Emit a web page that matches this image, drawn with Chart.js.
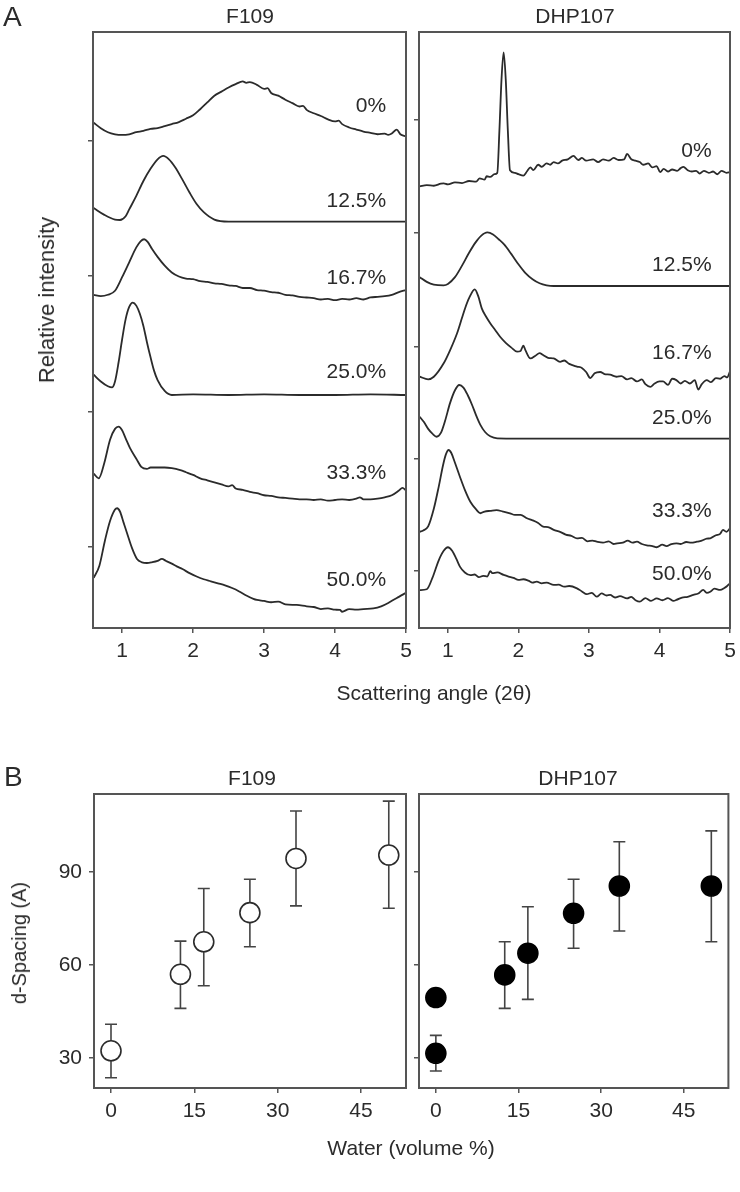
<!DOCTYPE html>
<html>
<head>
<meta charset="utf-8">
<script src="https://cdn.jsdelivr.net/npm/chart.js@4.4.0/dist/chart.umd.min.js"></script>
<style>
    body { margin: 0; background: #fff; }
    #wrap { position: relative; width: 740px; height: 1192px; overflow: hidden; font-family: "Liberation Sans", Arial, sans-serif; color: #2b2b2b; }
    #wrap canvas { position: absolute; left: 0; }
    .t { position: absolute; white-space: nowrap; line-height: 1; font-size: 21px; }
    .c { transform: translateX(-50%); }
    .r { transform: translate(-50%, -50%) rotate(-90deg); }
</style>
</head>
<body>
<div id="wrap">
    <canvas id="aLeft" width="740" height="720" style="top:0"></canvas>
    <canvas id="aRight" width="740" height="720" style="top:0"></canvas>
    <canvas id="bLeft" width="740" height="472" style="top:720px"></canvas>
    <canvas id="bRight" width="740" height="472" style="top:720px"></canvas>

    <div class="t" style="left:3px;top:3px;font-size:28px">A</div>
    <div class="t c" style="left:250px;top:5px">F109</div>
    <div class="t c" style="left:575px;top:5px">DHP107</div>
    <div class="t r" style="left:47px;top:300px;font-size:22px">Relative intensity</div>
    <div class="t c" style="left:434px;top:682px">Scattering angle (2θ)</div>

    <div class="t" style="left:4px;top:763px;font-size:28px">B</div>
    <div class="t c" style="left:252px;top:767px">F109</div>
    <div class="t c" style="left:578px;top:767px">DHP107</div>
    <div class="t r" style="left:19px;top:943px;font-size:20px">d-Spacing (A)</div>
    <div class="t c" style="left:411px;top:1137px">Water (volume %)</div>
</div>

<script>
// ---- Panel A: scattering curves, stacked with an offset (arbitrary intensity units) ----
const angleTicks = [1, 2, 3, 4, 5];
const leftIntensityTicks = [6, 16, 26, 36];
const rightIntensityTicks = [4.2, 12.5, 20.8, 29.2, 37.5];
const waterLevels = ['0%', '12.5%', '16.7%', '25.0%', '33.3%', '50.0%'];
const f109LabelY = [38.5, 31.5, 25.8, 18.9, 11.4, 3.5];
const dhpLabelY = [35.2, 26.8, 20.3, 15.5, 8.6, 4.0];

const f109_0 = [[0.6,37.3],[0.7,36.9],[0.8,36.6],[0.9,36.45],[1.0,36.4],[1.1,36.45],[1.2,36.6],[1.3,36.7],[1.4,36.85],[1.5,36.9],[1.6,37.05],[1.7,37.2],[1.8,37.35],[1.9,37.6],[2.0,37.85],[2.1,38.3],[2.2,38.8],[2.3,39.3],[2.4,39.6],[2.5,39.9],[2.6,40.15],[2.7,40.35],[2.75,40.25],[2.8,40.3],[2.9,40.1],[3.0,39.8],[3.05,39.85],[3.1,39.5],[3.2,39.3],[3.3,39.0],[3.4,38.75],[3.5,38.5],[3.55,38.55],[3.6,38.25],[3.7,38.0],[3.8,37.8],[3.9,37.55],[4.0,37.4],[4.05,37.45],[4.1,37.2],[4.2,36.95],[4.3,36.8],[4.4,36.65],[4.5,36.55],[4.6,36.45],[4.7,36.5],[4.75,36.4],[4.8,36.5],[4.87,36.8],[4.92,36.45],[5.0,36.3]];
const f109_125 = [[0.6,31.0],[0.75,30.5],[0.9,30.15],[0.97,30.12],[1.05,30.4],[1.1,30.9],[1.2,31.9],[1.3,33.0],[1.4,33.9],[1.5,34.6],[1.58,34.85],[1.66,34.6],[1.75,34.0],[1.85,33.1],[1.95,32.15],[2.05,31.3],[2.15,30.7],[2.3,30.15],[2.5,30.0],[3.0,30.0],[4.0,30.0],[5.0,30.0]];
const f109_167 = [[0.6,24.6],[0.7,24.5],[0.8,24.6],[0.9,24.9],[1.0,25.9],[1.1,27.0],[1.2,28.1],[1.26,28.55],[1.31,28.7],[1.36,28.5],[1.42,28.0],[1.5,27.4],[1.6,26.75],[1.7,26.25],[1.8,25.95],[1.9,25.8],[2.0,25.75],[2.1,25.6],[2.2,25.55],[2.3,25.45],[2.4,25.4],[2.5,25.3],[2.6,25.25],[2.7,25.1],[2.8,25.1],[2.9,24.95],[3.0,24.9],[3.1,24.8],[3.2,24.75],[3.3,24.6],[3.4,24.55],[3.5,24.45],[3.6,24.4],[3.7,24.35],[3.8,24.25],[3.9,24.3],[4.0,24.2],[4.1,24.3],[4.2,24.25],[4.3,24.35],[4.4,24.25],[4.5,24.4],[4.6,24.45],[4.7,24.5],[4.8,24.6],[4.9,24.8],[5.0,24.95]];
const f109_250 = [[0.6,18.7],[0.7,18.2],[0.8,17.85],[0.86,17.77],[0.9,18.2],[0.95,19.6],[1.0,21.3],[1.05,22.8],[1.1,23.7],[1.15,24.02],[1.2,23.8],[1.25,23.2],[1.3,22.3],[1.35,21.1],[1.4,20.0],[1.45,19.0],[1.5,18.3],[1.6,17.5],[1.7,17.2],[2.0,17.25],[2.5,17.2],[3.0,17.25],[3.5,17.2],[4.0,17.2],[4.5,17.25],[5.0,17.2]];
const f109_333 = [[0.6,11.4],[0.67,11.05],[0.75,12.2],[0.83,13.9],[0.9,14.7],[0.95,14.86],[1.0,14.6],[1.05,14.0],[1.11,13.3],[1.2,12.5],[1.27,11.9],[1.35,11.75],[1.4,11.85],[1.5,11.85],[1.6,11.85],[1.7,11.8],[1.82,11.65],[1.9,11.5],[2.0,11.3],[2.1,11.05],[2.2,10.9],[2.3,10.75],[2.4,10.6],[2.5,10.45],[2.55,10.55],[2.6,10.3],[2.7,10.2],[2.8,10.05],[2.9,9.95],[3.0,9.8],[3.1,9.75],[3.2,9.65],[3.3,9.6],[3.4,9.55],[3.5,9.5],[3.6,9.5],[3.7,9.45],[3.8,9.5],[3.9,9.4],[4.0,9.45],[4.1,9.5],[4.2,9.45],[4.3,9.55],[4.35,9.65],[4.4,9.5],[4.5,9.5],[4.6,9.55],[4.7,9.65],[4.8,9.8],[4.9,10.15],[4.95,10.35],[5.0,10.15]];
const f109_500 = [[0.6,3.7],[0.68,4.6],[0.76,6.5],[0.83,7.9],[0.9,8.75],[0.93,8.84],[0.97,8.6],[1.02,7.8],[1.07,7.0],[1.14,5.9],[1.21,5.1],[1.28,4.85],[1.35,4.8],[1.42,4.85],[1.5,4.95],[1.56,5.1],[1.62,4.95],[1.7,4.75],[1.77,4.55],[1.85,4.35],[1.95,4.05],[2.05,3.8],[2.15,3.6],[2.25,3.45],[2.35,3.3],[2.45,3.15],[2.55,2.95],[2.65,2.7],[2.75,2.4],[2.85,2.15],[2.9,2.07],[3.0,2.0],[3.1,1.9],[3.2,1.95],[3.3,1.75],[3.46,1.7],[3.6,1.6],[3.7,1.55],[3.8,1.4],[3.9,1.45],[4.0,1.35],[4.07,1.33],[4.1,1.2],[4.2,1.4],[4.3,1.35],[4.4,1.4],[4.54,1.45],[4.65,1.6],[4.75,1.85],[4.82,2.07],[4.9,2.3],[5.0,2.6]];

const dhp_0 = [[0.6,32.6],[0.7,32.7],[0.8,32.65],[0.9,32.8],[0.94,32.83],[1.0,32.75],[1.1,32.9],[1.2,32.85],[1.3,33.0],[1.4,32.95],[1.45,33.2],[1.52,33.1],[1.55,33.35],[1.6,33.3],[1.66,33.5],[1.7,33.6],[1.73,36.7],[1.76,40.5],[1.79,42.5],[1.82,40.5],[1.85,36.7],[1.88,33.8],[1.95,33.6],[2.0,33.5],[2.07,33.4],[2.12,33.7],[2.17,34.0],[2.21,33.8],[2.28,34.2],[2.33,34.05],[2.4,34.3],[2.45,34.2],[2.5,34.4],[2.56,34.3],[2.62,34.5],[2.7,34.6],[2.78,34.85],[2.85,34.55],[2.9,34.7],[2.96,34.5],[3.06,34.6],[3.13,34.4],[3.2,34.6],[3.28,34.5],[3.35,34.7],[3.42,34.55],[3.5,34.6],[3.54,35.0],[3.6,34.6],[3.66,34.5],[3.72,34.4],[3.77,34.2],[3.84,34.3],[3.9,34.0],[3.96,34.1],[4.01,33.65],[4.06,33.9],[4.12,33.7],[4.18,33.85],[4.25,33.75],[4.3,33.95],[4.34,34.05],[4.4,33.8],[4.46,33.7],[4.52,33.75],[4.57,33.55],[4.63,33.75],[4.7,33.6],[4.76,33.7],[4.82,33.5],[4.88,33.75],[4.95,33.6],[5.0,33.65]];
const dhp_125 = [[0.6,25.9],[0.7,25.55],[0.8,25.35],[0.94,25.3],[1.0,25.4],[1.1,25.9],[1.2,26.75],[1.3,27.7],[1.39,28.45],[1.47,28.95],[1.56,29.2],[1.64,29.05],[1.72,28.7],[1.8,28.3],[1.9,27.6],[2.0,26.85],[2.1,26.2],[2.2,25.75],[2.3,25.45],[2.4,25.3],[2.5,25.25],[3.0,25.25],[3.5,25.25],[4.0,25.25],[4.5,25.25],[5.0,25.25]];
const dhp_167 = [[0.6,18.55],[0.72,18.36],[0.8,18.55],[0.94,19.54],[1.03,20.5],[1.13,21.76],[1.2,22.9],[1.25,23.7],[1.3,24.35],[1.38,25.0],[1.43,24.5],[1.48,23.6],[1.54,23.0],[1.6,22.5],[1.67,22.0],[1.74,21.5],[1.82,21.05],[1.9,20.7],[1.98,20.4],[2.03,20.45],[2.07,20.85],[2.1,20.5],[2.17,19.9],[2.24,20.1],[2.3,20.3],[2.35,20.15],[2.42,19.95],[2.5,19.9],[2.59,19.65],[2.65,19.75],[2.72,19.5],[2.83,19.3],[2.9,19.2],[2.96,18.9],[3.02,18.45],[3.08,18.8],[3.16,18.9],[3.22,18.75],[3.3,18.7],[3.39,18.55],[3.46,18.6],[3.54,18.35],[3.6,18.45],[3.68,18.2],[3.75,18.35],[3.8,18.0],[3.87,17.8],[3.93,18.05],[4.0,18.2],[4.05,18.2],[4.12,17.95],[4.18,18.4],[4.24,18.3],[4.3,18.05],[4.36,18.25],[4.43,18.05],[4.5,18.3],[4.55,17.6],[4.6,18.0],[4.67,18.3],[4.73,18.15],[4.8,18.45],[4.86,18.4],[4.92,18.6],[4.96,18.5],[5.0,18.95]];
const dhp_250 = [[0.6,15.6],[0.66,15.2],[0.72,14.7],[0.78,14.35],[0.84,14.12],[0.9,14.4],[0.96,15.3],[1.03,16.6],[1.1,17.55],[1.16,17.94],[1.22,17.75],[1.28,17.2],[1.34,16.5],[1.4,15.7],[1.46,15.0],[1.53,14.45],[1.6,14.15],[1.7,14.0],[2.0,13.98],[3.0,13.98],[4.0,13.98],[5.0,13.98]];
const dhp_333 = [[0.6,7.1],[0.65,7.2],[0.72,7.5],[0.8,8.8],[0.87,10.44],[0.93,12.0],[0.97,12.8],[1.01,13.14],[1.05,12.9],[1.1,12.2],[1.17,11.17],[1.24,10.2],[1.32,9.3],[1.4,8.75],[1.46,8.47],[1.52,8.6],[1.6,8.65],[1.69,8.7],[1.78,8.6],[1.88,8.47],[1.95,8.35],[2.03,8.35],[2.12,8.1],[2.2,7.95],[2.28,7.75],[2.35,7.48],[2.42,7.45],[2.5,7.25],[2.59,7.1],[2.67,6.9],[2.75,6.8],[2.83,6.62],[2.9,6.65],[2.98,6.4],[3.05,6.45],[3.11,6.37],[3.2,6.3],[3.28,6.4],[3.35,6.2],[3.4,6.25],[3.48,6.3],[3.55,6.45],[3.62,6.3],[3.68,6.37],[3.75,6.2],[3.82,6.1],[3.9,6.05],[3.96,5.96],[4.04,6.15],[4.1,6.05],[4.17,6.2],[4.24,6.25],[4.3,6.2],[4.38,6.35],[4.45,6.3],[4.53,6.37],[4.6,6.45],[4.67,6.6],[4.72,6.62],[4.8,6.85],[4.86,6.95],[4.9,7.24],[4.95,7.1],[5.0,7.36]];
const dhp_500 = [[0.6,2.8],[0.7,2.86],[0.78,3.7],[0.87,5.0],[0.94,5.7],[1.0,5.96],[1.06,5.7],[1.12,5.1],[1.17,4.53],[1.24,4.1],[1.32,3.9],[1.38,3.95],[1.44,3.75],[1.5,3.85],[1.56,3.8],[1.6,4.2],[1.63,4.05],[1.7,4.1],[1.79,3.92],[1.86,3.8],[1.93,3.7],[2.0,3.55],[2.07,3.6],[2.14,3.5],[2.2,3.35],[2.26,3.42],[2.33,3.3],[2.4,3.35],[2.5,3.18],[2.57,3.2],[2.65,3.05],[2.72,3.1],[2.83,2.93],[2.9,2.7],[2.97,2.5],[3.04,2.6],[3.11,2.31],[3.18,2.55],[3.25,2.4],[3.3,2.44],[3.37,2.25],[3.44,2.35],[3.54,2.19],[3.6,2.3],[3.66,2.05],[3.72,1.94],[3.8,2.2],[3.88,2.0],[3.96,2.19],[4.04,2.05],[4.12,2.2],[4.2,2.0],[4.24,2.07],[4.32,2.25],[4.4,2.3],[4.48,2.44],[4.55,2.55],[4.62,2.81],[4.67,2.6],[4.72,2.68],[4.78,2.9],[4.86,2.81],[4.92,2.95],[4.96,3.1],[5.0,3.3]];

// ---- Panel B: d-spacing vs water content ----
const waterTicks = [0, 15, 30, 45];
const spacingTicks = [30, 60, 90];
const f109Water = [0, 12.5, 16.7, 25, 33.3, 50];
const f109Spacing = [32.3, 57.0, 67.5, 76.9, 94.4, 95.5];
const f109Hi = [40.9, 67.7, 84.7, 87.7, 109.7, 112.9];
const f109Lo = [23.6, 46.0, 53.3, 65.9, 79.1, 78.3];
const dhpWater = [0, 0, 12.5, 16.7, 25, 33.3, 50];
const dhpSpacing = [49.5, 31.5, 56.8, 63.8, 76.7, 85.5, 85.5];
const dhpHi = [null, 37.3, 67.5, 78.8, 87.7, 99.8, 103.3];
const dhpLo = [null, 25.8, 46.0, 48.9, 65.4, 71.0, 67.5];

const INK = '#2b2b2b';
const FRAME = '#555';
const FONT = { family: '"Liberation Sans", Arial, sans-serif', size: 21 };

// box around plot area
const framePlugin = {
    id: 'frame',
    afterDraw(chart) {
        const { ctx, chartArea: a } = chart;
        ctx.save();
        ctx.strokeStyle = FRAME;
        ctx.lineWidth = 2;
        ctx.strokeRect(a.left, a.top, a.right - a.left, a.bottom - a.top);
        ctx.restore();
    }
};

// percent labels placed in data coordinates
const curveLabels = {
    id: 'curveLabels',
    afterDatasetsDraw(chart, args, opts) {
        if (!opts.texts) return;
        const { ctx, scales } = chart;
        ctx.save();
        ctx.fillStyle = INK;
        ctx.font = FONT.size + 'px ' + FONT.family;
        ctx.textAlign = 'right';
        ctx.textBaseline = 'middle';
        opts.texts.forEach((t, i) => {
            ctx.fillText(t, scales.x.getPixelForValue(opts.x), scales.y.getPixelForValue(opts.y[i]));
        });
        ctx.restore();
    }
};

// vertical error bars with caps, drawn under markers
const errorBars = {
    id: 'errorBars',
    beforeDatasetsDraw(chart) {
        const { ctx, scales } = chart;
        ctx.save();
        ctx.strokeStyle = '#444';
        ctx.lineWidth = 1.6;
        chart.data.datasets.forEach(ds => {
            if (!ds.errHi) return;
            ds.data.forEach((p, i) => {
                if (ds.errHi[i] == null) return;
                const x = scales.x.getPixelForValue(p.x);
                const yh = scales.y.getPixelForValue(ds.errHi[i]);
                const yl = scales.y.getPixelForValue(ds.errLo[i]);
                ctx.beginPath();
                ctx.moveTo(x, yh); ctx.lineTo(x, yl);
                ctx.moveTo(x - 6, yh); ctx.lineTo(x + 6, yh);
                ctx.moveTo(x - 6, yl); ctx.lineTo(x + 6, yl);
                ctx.stroke();
            });
        });
        ctx.restore();
    }
};

function axes(o) {
    return {
        x: {
            type: 'linear', min: o.xMin, max: o.xMax,
            border: { display: false },
            grid: { drawOnChartArea: false, drawTicks: true, tickLength: 5, color: FRAME, lineWidth: 1.5 },
            ticks: { color: INK, font: FONT, padding: 6, maxRotation: 0 },
            afterBuildTicks: s => { s.ticks = o.xTicks.map(v => ({ value: v })); },
            afterFit: s => { s.height = 50; s.paddingLeft = 0; s.paddingRight = 0; }
        },
        y: {
            type: 'linear', min: o.yMin, max: o.yMax,
            border: { display: false },
            grid: { drawOnChartArea: false, drawTicks: true, tickLength: 5, color: FRAME, lineWidth: 1.5 },
            ticks: { display: o.yLabels, color: INK, font: FONT, padding: 7 },
            afterBuildTicks: s => { s.ticks = o.yTicks.map(v => ({ value: v })); },
            afterFit: s => { s.width = o.yWidth; s.paddingTop = 0; s.paddingBottom = 0; }
        }
    };
}

function curveSet(series) {
    return series.map(d => ({
        data: d.map(p => ({ x: p[0], y: p[1] })),
        borderColor: INK,
        borderWidth: 1.8,
        pointRadius: 0,
        fill: false,
        cubicInterpolationMode: 'monotone'
    }));
}

const baseOptions = {
    responsive: false,
    animation: false,
    devicePixelRatio: 1,
    plugins: { legend: { display: false }, tooltip: { enabled: false } }
};

function spectraChart(id, series, pad, yWidth, yTicks, labelY, labelX) {
    new Chart(document.getElementById(id), {
        type: 'line',
        data: { datasets: curveSet(series) },
        options: {
            ...baseOptions,
            layout: { padding: pad },
            scales: axes({ xMin: 0.59, xMax: 5, xTicks: angleTicks, yMin: 0, yMax: 44, yTicks, yWidth, yLabels: false }),
            plugins: { ...baseOptions.plugins, curveLabels: { texts: waterLevels, y: labelY, x: labelX } }
        },
        plugins: [framePlugin, curveLabels]
    });
}

function spacingChart(id, xs, ys, hi, lo, filled, pad, yWidth, yLabels) {
    new Chart(document.getElementById(id), {
        type: 'scatter',
        data: {
            datasets: [{
                data: xs.map((x, i) => ({ x, y: ys[i] })),
                errHi: hi, errLo: lo,
                pointRadius: 10,
                pointBackgroundColor: filled ? '#000' : '#fff',
                pointBorderColor: filled ? '#000' : INK,
                pointBorderWidth: 1.6
            }]
        },
        options: {
            ...baseOptions,
            layout: { padding: pad },
            scales: axes({ xMin: -3.06, xMax: 53.1, xTicks: waterTicks, yMin: 20.3, yMax: 115.2, yTicks: spacingTicks, yWidth, yLabels })
        },
        plugins: [errorBars, framePlugin]
    });
}

spectraChart('aLeft', [f109_0, f109_125, f109_167, f109_250, f109_333, f109_500],
    { left: 0, top: 32, right: 334, bottom: 42 }, 93, leftIntensityTicks, f109LabelY, 4.72);
spectraChart('aRight', [dhp_0, dhp_125, dhp_167, dhp_250, dhp_333, dhp_500],
    { left: 409, top: 32, right: 10, bottom: 42 }, 10, rightIntensityTicks, dhpLabelY, 4.74);

spacingChart('bLeft', f109Water, f109Spacing, f109Hi, f109Lo, false,
    { left: 0, top: 74, right: 334, bottom: 54 }, 94, true);
spacingChart('bRight', dhpWater, dhpSpacing, dhpHi, dhpLo, true,
    { left: 409, top: 74, right: 9, bottom: 54 }, 10, false);
</script>
</body>
</html>
